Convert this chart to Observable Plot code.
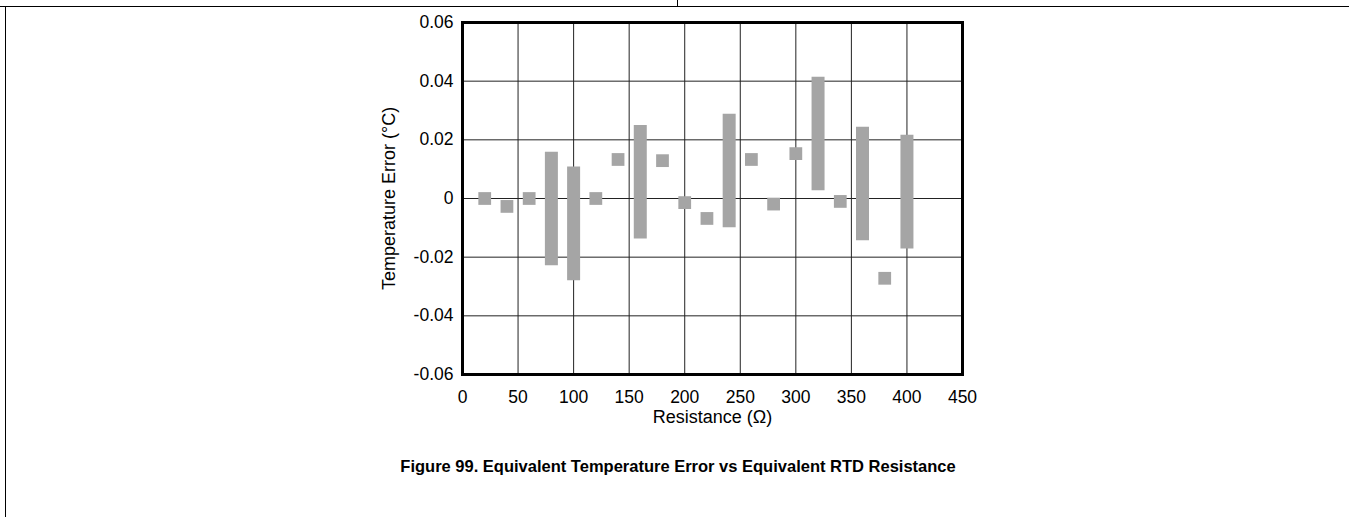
<!DOCTYPE html>
<html>
<head>
<meta charset="utf-8">
<script src="https://cdn.jsdelivr.net/npm/d3@7"></script>
<script src="https://cdn.jsdelivr.net/npm/@observablehq/plot@0.6"></script>
<style>
  html, body { margin: 0; padding: 0; background: #fff; }
  #page { position: relative; width: 1349px; height: 517px; overflow: hidden; background: #fff; font-family: "Liberation Sans", Arial, sans-serif; }
  #topline { position: absolute; left: 0; top: 6px; width: 1349px; height: 1px; background: #000; }
  #leftline { position: absolute; left: 5px; top: 6px; width: 1px; height: 511px; background: #000; }
  #tick { position: absolute; left: 677px; top: 0; width: 1px; height: 7px; background: #000; }
  #chart { position: absolute; left: 0; top: 0; }
  #title { position: absolute; left: 0; width: 1356px; top: 457px; text-align: center; font-weight: bold; font-size: 16.5px; color: #000; }
</style>
</head>
<body>
<div id="page">
  <div id="topline"></div>
  <div id="leftline"></div>
  <div id="tick"></div>
  <div id="chart"></div>
  <div id="title">Figure 99. Equivalent Temperature Error vs Equivalent RTD Resistance</div>
</div>
<script>
// Range bars (resistance, low error, high error)
const barResistance = [80, 100, 160, 240, 320, 360, 400];
const barLow  = [-0.0229, -0.0280, -0.0138, -0.0100, 0.0026, -0.0144, -0.0172];
const barHigh = [0.0158, 0.0107, 0.0249, 0.0287, 0.0413, 0.0243, 0.0216];

// Single points (resistance, error)
const pointResistance = [20, 40, 60, 120, 140, 180, 200, 220, 260, 280, 300, 340, 380];
const pointError = [0.0000, -0.0027, 0.0000, 0.0000, 0.0133, 0.0129, -0.0014, -0.0068, 0.0133, -0.0019, 0.0153, -0.0010, -0.0272];

// Axis ticks and labels
const xTicks = [0, 50, 100, 150, 200, 250, 300, 350, 400, 450];
const yTicks = [-0.06, -0.04, -0.02, 0, 0.02, 0.04, 0.06];
const xLabel = "Resistance (Ω)";
const yLabel = "Temperature Error (°C)";

const bars = barResistance.map((r, i) => ({r, lo: barLow[i], hi: barHigh[i]}));
const points = pointResistance.map((r, i) => ({r, e: pointError[i]}));

const grey = "#a5a5a5";
const fmt = d => d === 0 ? "0" : d.toFixed(2);

const chart = Plot.plot({
  width: 1349,
  height: 440,
  marginLeft: 462,
  marginRight: 387,
  marginTop: 22,
  marginBottom: 66,
  x: {domain: [0, 450]},
  y: {domain: [-0.06, 0.06]},
  style: {fontFamily: '"Liberation Sans", Arial, sans-serif', fontSize: "17.5px", color: "#000", background: "transparent"},
  marks: [
    Plot.gridX(xTicks, {stroke: "#222", strokeOpacity: 1, strokeWidth: 1}),
    Plot.gridY(yTicks, {stroke: "#222", strokeOpacity: 1, strokeWidth: 1}),
    Plot.ruleX(bars, {x: "r", y1: "lo", y2: "hi", stroke: grey, strokeWidth: 13, strokeOpacity: 1}),
    Plot.dot(points, {x: "r", y: "e", symbol: "square", r: 7.2, fill: grey, stroke: null}),
    Plot.frame({stroke: "#000", strokeWidth: 3}),
    Plot.axisX(xTicks, {tickSize: 0, tickPadding: 16, label: null, fontSize: 17.5}),
    Plot.axisY(yTicks, {tickSize: 0, tickPadding: 9, label: null, tickFormat: fmt, fontSize: 17.5}),
    Plot.text([xLabel], {text: d => d, frameAnchor: "bottom", dy: 48, fontSize: 18, fill: "#000", textAnchor: "middle"}),
    Plot.text([yLabel], {text: d => d, frameAnchor: "left", dx: -73, rotate: -90, fontSize: 18, fill: "#000", textAnchor: "middle"})
  ]
});
document.getElementById("chart").appendChild(chart);
</script>
</body>
</html>
